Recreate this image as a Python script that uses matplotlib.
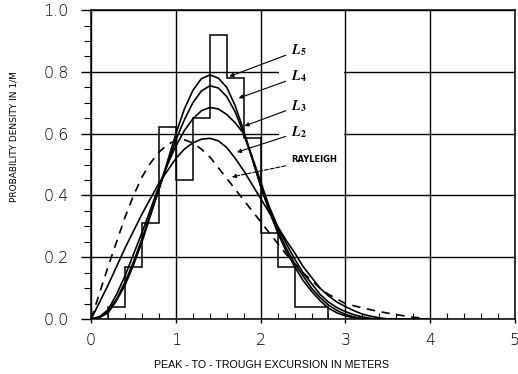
import numpy as np
import matplotlib
matplotlib.use('Agg')
import matplotlib.pyplot as plt
from matplotlib.patches import Rectangle

# ── Data ────────────────────────────────────────────────────────────────────
x_grid = [0.0, 0.1, 0.2, 0.3, 0.4, 0.5, 0.6, 0.7, 0.8, 0.9,
          1.0, 1.1, 1.2, 1.3, 1.4, 1.5, 1.6, 1.7, 1.8, 1.9,
          2.0, 2.1, 2.2, 2.3, 2.4, 2.5, 2.6, 2.7, 2.8, 2.9,
          3.0, 3.1, 3.2, 3.3, 3.4, 3.5, 3.6, 3.7, 3.8, 3.9, 4.0]

L5 = [0, 0.005, 0.02, 0.06, 0.11, 0.175, 0.25, 0.335, 0.42, 0.51,
      0.60, 0.68, 0.74, 0.778, 0.79, 0.78, 0.75, 0.69, 0.61, 0.52,
      0.43, 0.35, 0.28, 0.22, 0.17, 0.125, 0.09, 0.06, 0.035, 0.02,
      0.01, 0.004, 0, 0, 0, 0, 0, 0, 0, 0, 0]
L4 = [0, 0.006, 0.025, 0.065, 0.12, 0.185, 0.26, 0.34, 0.42, 0.50,
      0.58, 0.645, 0.70, 0.738, 0.755, 0.748, 0.72, 0.67, 0.60, 0.52,
      0.43, 0.355, 0.29, 0.23, 0.18, 0.14, 0.10, 0.07, 0.045, 0.028,
      0.015, 0.007, 0.002, 0, 0, 0, 0, 0, 0, 0, 0]
L3 = [0, 0.008, 0.03, 0.08, 0.14, 0.21, 0.28, 0.355, 0.43, 0.50,
      0.56, 0.61, 0.648, 0.674, 0.685, 0.68, 0.662, 0.635, 0.60, 0.525,
      0.445, 0.365, 0.30, 0.245, 0.195, 0.15, 0.115, 0.08, 0.055, 0.037,
      0.024, 0.014, 0.007, 0.002, 0, 0, 0, 0, 0, 0, 0]
L2 = [0, 0.055, 0.11, 0.17, 0.23, 0.285, 0.34, 0.39, 0.44, 0.48,
      0.52, 0.55, 0.57, 0.582, 0.585, 0.577, 0.555, 0.52, 0.48, 0.435,
      0.39, 0.345, 0.30, 0.255, 0.215, 0.17, 0.135, 0.10, 0.075, 0.055,
      0.04, 0.027, 0.016, 0.009, 0.004, 0, 0, 0, 0, 0, 0]
RAYLEIGH = [0, 0.085, 0.17, 0.25, 0.33, 0.40, 0.46, 0.505, 0.54, 0.565,
            0.578, 0.58, 0.57, 0.55, 0.525, 0.49, 0.455, 0.42, 0.385, 0.35,
            0.315, 0.28, 0.245, 0.21, 0.18, 0.15, 0.125, 0.10, 0.08, 0.065,
            0.05, 0.043, 0.036, 0.03, 0.024, 0.019, 0.014, 0.01, 0.006, 0.003, 0]

# measured histogram (bin edges in m, density in 1/m)
hist_edges = [0.2, 0.4, 0.6, 0.8, 1.0, 1.2, 1.4, 1.6, 1.8, 2.0, 2.2, 2.4, 2.6, 2.8]
hist_vals = [0.04, 0.17, 0.31, 0.62, 0.45, 0.65, 0.92, 0.78, 0.585, 0.28, 0.17, 0.04, 0.04]

# ── Plotting ────────────────────────────────────────────────────────────────
plt.rcParams['font.family'] = ['DejaVu Sans']
plt.rcParams['mathtext.fontset'] = 'stix'

fig = plt.figure(figsize=(5.18, 3.74), dpi=100, facecolor='white')
ax = fig.add_axes([0.176, 0.147, 0.818, 0.826])

ax.stairs(hist_vals, hist_edges, color='black', linewidth=1.1, baseline=0, zorder=3)

for ys in (L5, L4, L3, L2):
    ax.plot(x_grid, ys, color='black', linewidth=1.2, zorder=4)
ax.plot(x_grid, RAYLEIGH, color='black', linewidth=1.2, linestyle=(0, (5, 4)), zorder=4)

# blank area behind the curve labels (grid is broken there in the original)
ax.add_patch(Rectangle((2.22, 0.5), 0.76, 0.42, facecolor='white', edgecolor='none', zorder=2))

# curve labels with leader lines
labels = [(r'$\mathbfit{L}_\mathbf{5}$', (2.36, 0.87), (1.63, 0.785), '-'),
          (r'$\mathbfit{L}_\mathbf{4}$', (2.36, 0.785), (1.74, 0.715), '-'),
          (r'$\mathbfit{L}_\mathbf{3}$', (2.36, 0.69), (1.81, 0.625), '-'),
          (r'$\mathbfit{L}_\mathbf{2}$', (2.36, 0.605), (1.72, 0.54), '-'),
          ('RAYLEIGH', (2.36, 0.515), (1.66, 0.46), '--')]
for txt, xytext, xy, ls in labels:
    ax.annotate(txt, xy=xy, xytext=xytext, ha='left', va='center',
                fontsize=6 if txt == 'RAYLEIGH' else 10,
                family='Liberation Sans Narrow',
                fontweight='bold' if txt == 'RAYLEIGH' else 'normal',
                arrowprops=dict(arrowstyle='-|>', color='black', lw=0.8,
                                linestyle=ls, mutation_scale=6,
                                shrinkA=2, shrinkB=0),
                zorder=6)

ax.set_xlim(0, 5)
ax.set_ylim(0, 1.0)
ax.set_xticks(np.arange(0, 6, 1))
ax.set_yticks(np.arange(0, 1.01, 0.2))
ax.set_xticks(np.arange(0, 5.01, 0.2), minor=True)
ax.set_yticks(np.arange(0, 1.001, 0.05), minor=True)
ax.set_yticklabels([f'{v:.1f}' for v in np.arange(0, 1.01, 0.2)])
ax.tick_params(axis='both', which='major', direction='out', width=1,
               labelsize=11.5)
ax.tick_params(axis='x', which='major', length=3, pad=7)
ax.tick_params(axis='y', which='major', length=7, pad=9)
ax.tick_params(axis='x', which='minor', direction='in', length=4, width=0.8)
ax.tick_params(axis='y', which='minor', direction='out', length=5, width=0.8)
for lab in ax.get_xticklabels() + ax.get_yticklabels():
    lab.set_fontweight('light')

ax.grid(True, which='major', color='black', linewidth=1.0, zorder=1)
ax.set_axisbelow(True)
for sp in ax.spines.values():
    sp.set_linewidth(1.1)
    sp.set_color('black')

ax.set_xlabel('PEAK - TO - TROUGH EXCURSION IN METERS', fontsize=7.7,
              family='Liberation Sans')
ax.xaxis.set_label_coords(0.425, -0.132)
ax.set_ylabel('PROBABILITY DENSITY IN 1/M', fontsize=6.5,
              family='Liberation Sans Narrow')
ax.yaxis.set_label_coords(-0.172, 0.59)

fig.savefig('out.png', dpi=100, facecolor='white')
